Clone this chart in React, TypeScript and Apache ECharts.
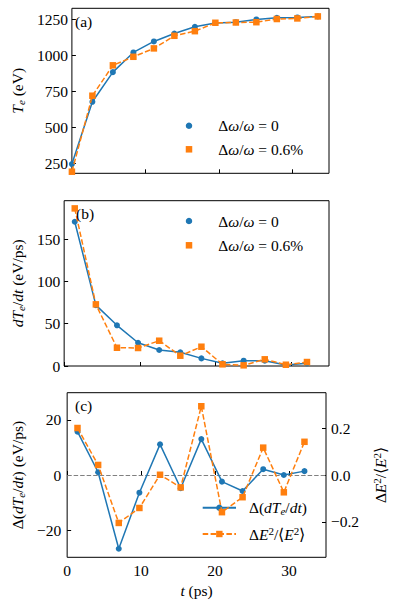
import React, { useEffect, useRef } from "react";
import * as echarts from "echarts";

// ---------- data ----------
const tA = [0, 2.79, 5.58, 8.37, 11.16, 13.95, 16.74, 19.53, 22.32, 25.11, 27.9, 30.69, 33.48];
const teBlue = [248, 678, 883, 1019, 1095, 1150, 1196, 1222, 1228, 1247, 1258, 1261, 1268];
const teOrange = [195, 720, 930, 989, 1047, 1134, 1166, 1224, 1226, 1228, 1250, 1254, 1268];

const tMid = [1.4, 4.19, 6.98, 9.77, 12.56, 15.35, 18.14, 20.93, 23.72, 26.51, 29.3, 32.09];
const dtBlue = [170.6, 72, 48.1, 27.5, 18.9, 16.2, 9.0, 3.2, 6.3, 6.3, 1.2, 3.2];
const dtOrange = [186.4, 72.9, 21.6, 21.3, 29.9, 12.2, 22.8, 2.0, 0.8, 7.9, 1.5, 4.7];

const dDtBlue = [15.7, 1.0, -26.7, -6.4, 11.1, -4.8, 13.0, -2.4, -5.8, 2.1, 0.0, 1.4];
const dE2Orange = [0.201, 0.043, -0.205, -0.141, 0.001, -0.053, 0.294, -0.159, -0.095, 0.117, -0.074, 0.142];

const xTicks = [0, 10, 20, 30];
const aTicks = [250, 500, 750, 1000, 1250];
const bTicks = [0, 50, 100, 150];
const cLeftTicks = [-20, 0, 20];
const cRightTicks = [-0.2, 0, 0.2];

// ---------- styles ----------
const FONT = "Liberation Serif";
const FS = 15.5;
const BLUE = "#1f77b4";
const ORANGE = "#ff7f0e";
const DASH = [5.5, 2.4];

const rich: any = {
  i: { fontStyle: "italic", fontSize: FS, lineHeight: 18, fontFamily: FONT, color: "#000" },
  sub: { fontStyle: "italic", fontSize: 11, lineHeight: 10, verticalAlign: "bottom", fontFamily: FONT, color: "#000" },
  sup: { fontSize: 11, lineHeight: 10, verticalAlign: "top", fontFamily: FONT, color: "#000" },
};

const legendText: Record<string, string> = {
  a0: "Δ{i|ω}/{i|ω} = 0",
  a6: "Δ{i|ω}/{i|ω} = 0.6%",
  b0: "Δ{i|ω}/{i|ω} = 0",
  b6: "Δ{i|ω}/{i|ω} = 0.6%",
  c1: "Δ({i|dT}{sub|e}/{i|dt})",
  c2: "Δ{i|E}{sup|2}/⟨{i|E}{sup|2}⟩",
};

const fmtMinus = (v: number, d: number) =>
  (v < 0 ? "\u2212" : "") + Math.abs(v).toFixed(d);

const zip = (xs: number[], ys: number[]) => xs.map((x, i) => [x, ys[i]]);

const GRID_LEFT = 63;
const GRID_W = 266;

export default function App() {
  const ref = useRef<HTMLDivElement>(null);

  useEffect(() => {
    if (!ref.current) return;
    const chart = echarts.init(ref.current, undefined, { renderer: "svg" });

    const textBase = { fontFamily: FONT, fontSize: FS, color: "#000" };
    const tick = { show: true, inside: true, length: 4, lineStyle: { color: "#000", width: 1 } };

    const xAxisCommon = (gridIndex: number, showLabels: boolean) => ({
      type: "value",
      gridIndex,
      min: 0,
      max: 35,
      axisLine: { show: false },
      splitLine: { show: false },
      axisTick: { ...tick, customValues: xTicks },
      axisLabel: {
        ...textBase,
        show: showLabels,
        customValues: xTicks,
        margin: 5,
        formatter: (v: number) => String(v),
      },
    });

    const legendCommon = {
      orient: "vertical",
      padding: 0,
      selectedMode: false,
      formatter: (n: string) => legendText[n],
      textStyle: { ...textBase, lineHeight: 18, rich },
    };

    const option: any = {
      animation: false,
      backgroundColor: "#fff",
      textStyle: { fontFamily: FONT },
      grid: [
        { left: GRID_LEFT, top: 8.3, width: GRID_W, height: 165, show: true, borderColor: "#000", borderWidth: 1, backgroundColor: "transparent" },
        { left: GRID_LEFT, top: 200.7, width: GRID_W, height: 165.3, show: true, borderColor: "#000", borderWidth: 1, backgroundColor: "transparent" },
        { left: GRID_LEFT, top: 392.7, width: GRID_W, height: 164.6, show: true, borderColor: "#000", borderWidth: 1, backgroundColor: "transparent" },
      ],
      title: [
        { text: "(a)", left: 75, top: 12.7, padding: 0, textStyle: { ...textBase, fontWeight: "normal", lineHeight: 18 } },
        { text: "(b)", left: 76, top: 204.3, padding: 0, textStyle: { ...textBase, fontWeight: "normal", lineHeight: 18 } },
        { text: "(c)", left: 75, top: 396.7, padding: 0, textStyle: { ...textBase, fontWeight: "normal", lineHeight: 18 } },
      ],
      xAxis: [
        xAxisCommon(0, false),
        xAxisCommon(1, false),
        {
          ...xAxisCommon(2, true),
          name: "{i|t} (ps)",
          nameLocation: "middle",
          nameGap: 24,
          nameTextStyle: { ...textBase, lineHeight: 18, rich },
        },
      ],
      yAxis: [
        {
          type: "value",
          gridIndex: 0,
          min: 184,
          max: 1324,
          axisLine: { show: false },
          splitLine: { show: false },
          axisTick: { ...tick, customValues: aTicks },
          axisLabel: { ...textBase, customValues: aTicks, margin: 4, formatter: (v: number) => String(v) },
          name: "{i|T}{sub|e} (eV)",
          nameLocation: "middle",
          nameGap: 42,
          nameTextStyle: { ...textBase, lineHeight: 18, rich },
        },
        {
          type: "value",
          gridIndex: 1,
          min: 0,
          max: 195.5,
          axisLine: { show: false },
          splitLine: { show: false },
          axisTick: { ...tick, customValues: bTicks },
          axisLabel: { ...textBase, customValues: bTicks, margin: 4, formatter: (v: number) => String(v) },
          name: "{i|dT}{sub|e}/{i|dt} (eV/ps)",
          nameLocation: "middle",
          nameGap: 34,
          nameTextStyle: { ...textBase, lineHeight: 18, rich },
        },
        {
          type: "value",
          gridIndex: 2,
          min: -29.8,
          max: 29.8,
          axisLine: { show: false },
          splitLine: { show: false },
          axisTick: { ...tick, customValues: cLeftTicks },
          axisLabel: { ...textBase, customValues: cLeftTicks, margin: 6, formatter: (v: number) => fmtMinus(v, 0) },
          name: "Δ({i|dT}{sub|e}/{i|dt}) (eV/ps)",
          nameLocation: "middle",
          nameGap: 38,
          nameTextStyle: { ...textBase, lineHeight: 18, rich },
        },
        {
          type: "value",
          gridIndex: 2,
          position: "right",
          min: -0.352,
          max: 0.352,
          axisLine: { show: false },
          splitLine: { show: false },
          axisTick: { ...tick, customValues: cRightTicks },
          axisLabel: { ...textBase, customValues: cRightTicks, margin: 5, formatter: (v: number) => fmtMinus(v, 1) },
          name: "Δ{i|E}{sup|2}/⟨{i|E}{sup|2}⟩",
          nameLocation: "middle",
          nameRotate: 90,
          nameGap: 45,
          nameTextStyle: { ...textBase, lineHeight: 18, rich },
        },
      ],
      legend: [
        {
          ...legendCommon,
          left: 185.75,
          top: 116.7,
          itemWidth: 6.5,
          itemHeight: 6.5,
          itemGap: 5.6,
          textStyle: { ...legendCommon.textStyle, padding: [0, 0, 0, 21] },
          data: [{ name: "a0", icon: "circle" }, { name: "a6", icon: "rect" }],
        },
        {
          ...legendCommon,
          left: 185.75,
          top: 212,
          itemWidth: 6.5,
          itemHeight: 6.5,
          itemGap: 6.3,
          textStyle: { ...legendCommon.textStyle, padding: [0, 0, 0, 21] },
          data: [{ name: "b0", icon: "circle" }, { name: "b6", icon: "rect" }],
        },
        {
          ...legendCommon,
          left: 201.7,
          top: 498.7,
          itemWidth: 33.3,
          itemHeight: 8,
          itemGap: 8.3,
          textStyle: { ...legendCommon.textStyle, padding: [0, 0, 0, 8] },
          data: ["c1", "c2"],
        },
      ],
      series: [
        {
          name: "a0", type: "line", xAxisIndex: 0, yAxisIndex: 0,
          data: zip(tA, teBlue), symbol: "circle", symbolSize: 6,
          itemStyle: { color: BLUE }, lineStyle: { color: BLUE, width: 1.5 }, z: 3,
        },
        {
          name: "a6", type: "line", xAxisIndex: 0, yAxisIndex: 0,
          data: zip(tA, teOrange), symbol: "rect", symbolSize: 6.5,
          itemStyle: { color: ORANGE }, lineStyle: { color: ORANGE, width: 1.5, type: DASH }, z: 4,
        },
        {
          name: "b0", type: "line", xAxisIndex: 1, yAxisIndex: 1,
          data: zip(tMid, dtBlue), symbol: "circle", symbolSize: 6,
          itemStyle: { color: BLUE }, lineStyle: { color: BLUE, width: 1.5 }, z: 3,
        },
        {
          name: "b6", type: "line", xAxisIndex: 1, yAxisIndex: 1,
          data: zip(tMid, dtOrange), symbol: "rect", symbolSize: 6.5,
          itemStyle: { color: ORANGE }, lineStyle: { color: ORANGE, width: 1.5, type: DASH }, z: 4,
        },
        {
          name: "c1", type: "line", xAxisIndex: 2, yAxisIndex: 2,
          data: zip(tMid, dDtBlue), symbol: "circle", symbolSize: 6,
          itemStyle: { color: BLUE }, lineStyle: { color: BLUE, width: 1.5 }, z: 3,
          markLine: {
            silent: true,
            symbol: ["none", "none"],
            label: { show: false },
            lineStyle: { color: "#808080", width: 1, type: [4.5, 2] },
            data: [{ yAxis: 0 }],
            z: 1,
          },
        },
        {
          name: "c2", type: "line", xAxisIndex: 2, yAxisIndex: 3,
          data: zip(tMid, dE2Orange), symbol: "rect", symbolSize: 6.5,
          itemStyle: { color: ORANGE }, lineStyle: { color: ORANGE, width: 1.5, type: DASH }, z: 4,
        },
      ],
    };

    chart.setOption(option);
    return () => chart.dispose();
  }, []);

  return (
    <div
      ref={ref}
      style={{ position: "fixed", left: 0, top: 0, width: 397, height: 604, background: "#fff" }}
    />
  );
}
